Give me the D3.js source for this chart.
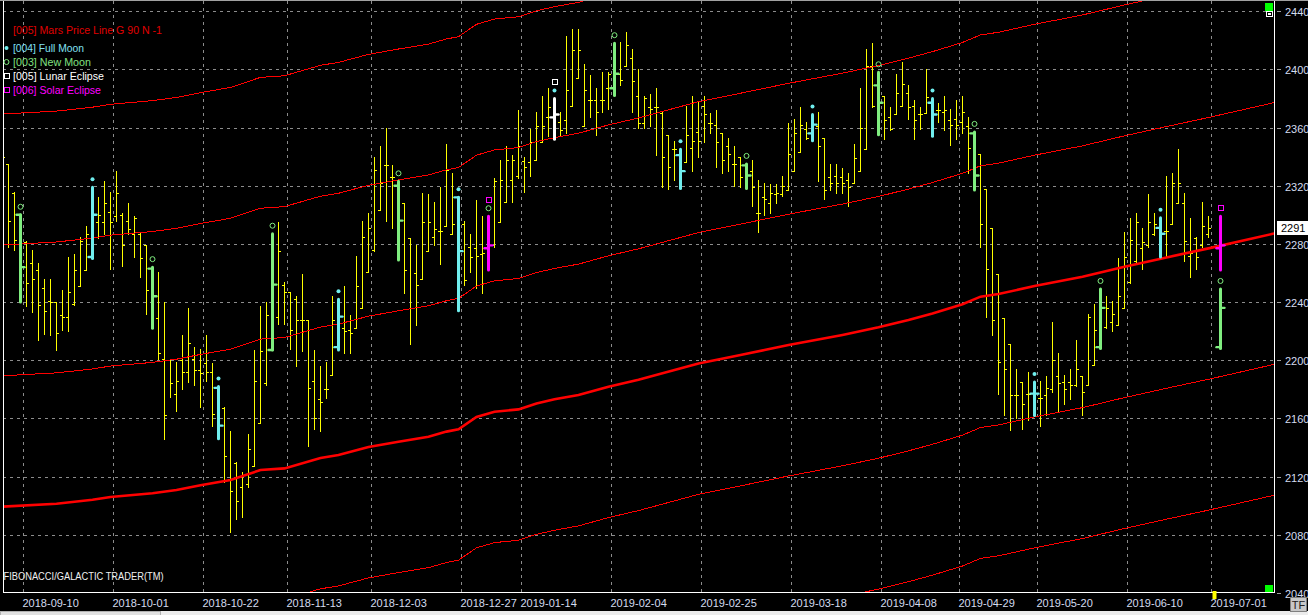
<!DOCTYPE html>
<html><head><meta charset="utf-8">
<script src="https://cdn.jsdelivr.net/npm/d3@7"></script>
<style>html,body{margin:0;padding:0;background:#000;overflow:hidden}svg{display:block}</style>
</head><body>
<svg id="c" width="1308" height="615"></svg>
<script>
// ---------- DATA ----------
const opens = [2350,2335,2315,2300,2281,2267,2262,2250,2241,2240,2231,2230,2239,2251,2262,2271,2295,2295,2302,2299,
2300,2296,2287,2287,2279,2263,2229,2201,2200,2177,2200,2192,2201,2193,2198,2192,2181,2167,2118,2129,
2113,2115,2127,2157,2184,2207,2230,2252,2247,2242,2228,2228,2186,2173,2180,2190,2209,2222,2221,2222,
2236,2261,2276,2303,2334,2326,2320,2308,2284,2260,2256,2275,2285,2289,2292,2287,2312,2294,2278,2277,
2273,2277,2279,2295,2309,2324,2327,2337,2336,2338,2350,2367,2367,2364,2365,2375,2394,2361,2379,2379,
2379,2387,2387,2397,2402,2408,2382,2363,2374,2374,2370,2355,2345,2341,2336,2346,2357,2375,2363,2362,
2356,2347,2335,2340,2334,2330,2301,2312,2308,2314,2314,2317,2330,2343,2359,2356,2361,2353,2326,2327,
2326,2324,2322,2330,2345,2402,2389,2382,2367,2369,2375,2384,2375,2369,2370,2377,2372,2371,2365,2366,
2364,2361,2356,2342,2318,2291,2259,2229,2211,2176,2185,2177,2177,2174,2176,2180,2189,2185,2185,2183,
2189,2183,2197,2209,2223,2226,2224,2236,2254,2268,2277,2279,2287,2291,2289,2294,2308,2308,2272,2284,
2279,2287];
const highs = [2364,2335,2316,2300,2282,2276,2267,2256,2256,2240,2248,2271,2273,2285,2292,2319,2312,2323,2316,2330,
2301,2308,2299,2288,2279,2264,2261,2240,2201,2199,2217,2236,2209,2208,2217,2198,2182,2168,2151,2130,
2123,2149,2207,2237,2240,2287,2295,2254,2247,2244,2259,2228,2207,2196,2199,2244,2242,2251,2231,2272,
2296,2301,2340,2347,2360,2334,2323,2308,2284,2279,2315,2314,2309,2319,2349,2329,2312,2296,2287,2310,
2299,2299,2325,2338,2347,2341,2372,2340,2359,2371,2382,2387,2380,2371,2423,2428,2428,2404,2396,2387,
2398,2398,2418,2419,2426,2414,2400,2382,2383,2387,2371,2355,2351,2345,2375,2382,2378,2382,2370,2372,
2356,2353,2347,2340,2335,2338,2324,2322,2321,2321,2327,2363,2366,2374,2364,2369,2371,2353,2335,2335,
2332,2329,2349,2387,2414,2418,2398,2382,2374,2397,2405,2389,2379,2374,2400,2380,2377,2382,2373,2379,
2382,2367,2357,2342,2318,2291,2259,2229,2211,2194,2185,2192,2185,2186,2189,2226,2205,2190,2194,2214,
2189,2232,2239,2249,2244,2241,2270,2288,2298,2301,2291,2314,2301,2298,2327,2329,2345,2315,2298,2285,
2309,2299];
const lows = [2300,2278,2276,2240,2237,2233,2214,2218,2217,2207,2221,2220,2238,2251,2262,2270,2284,2287,2263,2296,
2265,2287,2271,2257,2232,2222,2201,2146,2175,2165,2180,2185,2183,2168,2186,2155,2146,2116,2082,2091,
2092,2113,2127,2157,2183,2207,2225,2225,2208,2196,2206,2141,2153,2151,2174,2190,2207,2205,2205,2222,
2236,2261,2275,2303,2296,2291,2269,2246,2211,2224,2256,2275,2279,2266,2292,2287,2234,2252,2261,2250,
2246,2262,2278,2295,2309,2309,2325,2316,2327,2338,2350,2354,2352,2354,2356,2375,2394,2361,2367,2355,
2371,2373,2382,2389,2402,2371,2360,2360,2361,2341,2319,2318,2324,2318,2336,2330,2340,2350,2356,2333,
2329,2330,2320,2319,2318,2306,2288,2300,2301,2308,2313,2317,2330,2343,2352,2351,2323,2311,2317,2315,
2315,2306,2322,2330,2345,2374,2355,2352,2358,2369,2375,2366,2352,2359,2370,2354,2364,2358,2348,2352,
2356,2329,2317,2278,2230,2217,2177,2162,2152,2160,2153,2159,2162,2155,2162,2178,2165,2170,2173,2182,
2162,2183,2197,2208,2222,2220,2224,2236,2253,2267,2263,2278,2286,2271,2272,2294,2308,2268,2257,2263,
2278,2285];
const closes = [2340,2296,2283,2264,2253,2256,2238,2234,2240,2219,2230,2247,2262,2282,2287,2300,2300,2308,2295,2315,
2279,2290,2298,2270,2248,2244,2205,2162,2184,2186,2192,2212,2193,2191,2192,2163,2155,2134,2110,2103,
2121,2139,2186,2206,2231,2252,2275,2247,2221,2228,2228,2181,2160,2171,2180,2228,2230,2220,2219,2251,
2285,2291,2331,2322,2334,2326,2296,2262,2236,2252,2295,2295,2290,2289,2331,2294,2275,2255,2271,2272,
2274,2279,2323,2324,2338,2338,2347,2333,2350,2361,2361,2374,2369,2358,2386,2413,2413,2386,2379,2371,
2379,2397,2397,2393,2417,2392,2363,2380,2373,2374,2340,2333,2345,2330,2355,2351,2351,2369,2363,2350,
2338,2342,2335,2326,2327,2319,2301,2311,2315,2315,2320,2342,2356,2362,2353,2362,2347,2317,2322,2322,
2322,2319,2339,2360,2402,2375,2377,2365,2359,2384,2390,2374,2365,2369,2381,2369,2372,2372,2362,2362,
2371,2346,2327,2294,2263,2228,2199,2194,2176,2176,2170,2177,2177,2174,2181,2200,2184,2180,2183,2194,
2178,2230,2221,2236,2236,2232,2244,2271,2283,2295,2281,2295,2294,2287,2289,2322,2322,2282,2274,2271,
2292,2291];

// moon / eclipse bars (index into the arrays above)
const eventIdx  = [3,15,25,36,45,56,66,76,81,92,102,113,124,135,146,155,162,172,183,193];
const eventKind = ["new","full","new","full","new","full","new","full","solar","lunar",
                   "new","full","new","full","new","full","new","full","new","full"];
const eventMarks = ["c","d","c","d","c","d","c","d","cs","ds","c","d","c","d","c","d","c","d","c","d"];

// projected (future) bars
const projIdx   = [203, 203];
const projKind  = ["solar", "new"];
const projMarks = ["s", "c"];
const projOpen  = [2277, 2209];
const projHigh  = [2299, 2249];
const projLow   = [2262, 2208];
const projClose = [2279, 2236];

// Mars price line (bar index, value)
const marsIdx = [0,9,15,18,25,29,33,38,43,47,53,56,61,66,71,74,76,79,82,86,89,92,96,101,106,112,116,123,127,131,140,146,151,155,160,163,166,172,180,187,194,201,212];
const marsVal = [2099.3,2101.3,2104,2106,2108.5,2110.7,2114,2117.6,2124.5,2125.6,2132.8,2134.8,2140.3,2144,2147.4,2150.9,2152.5,2161,2164.6,2166.2,2170.3,2173.1,2176.1,2181.8,2186.6,2193.3,2197.8,2203.6,2207,2210.4,2217.4,2222.6,2227.7,2232.2,2238.5,2243.7,2245.5,2251,2257.4,2264.3,2270.7,2276.9,2287.2];
const marsOffsets = [-270,-180,-90,90,180,270,360];

const yTickValues = [2040,2080,2120,2160,2200,2240,2280,2320,2360,2400,2440];
const xTickIdx = [4,19,34,48,62,77,87,102,117,132,147,160,173,188,202];
const xTickLabels = ["2018-09-10","2018-10-01","2018-10-22","2018-11-13","2018-12-03","2018-12-27","2019-01-14",
  "2019-02-04","2019-02-25","2019-03-18","2019-04-08","2019-04-29","2019-05-20","2019-06-10","2019-07-01"];
const lastPrice = 2291;

const legendItems = [
  {label:"[004] Full Moon", kind:"full", icon:"d", w:71},
  {label:"[003] New Moon", kind:"new", icon:"c", w:78},
  {label:"[005] Lunar Eclipse", kind:"lunar", icon:"s", w:91},
  {label:"[006] Solar Eclipse", kind:"solar", icon:"s", w:88}
];

// ---------- DRAW ----------
const W = 1308, H = 615;
const color = {new:"#80ee80", full:"#70eeee", solar:"#ff00ff", lunar:"#ffffff"};
const textColor = {new:"#80e080", full:"#80e0f4", solar:"#ff00ff", lunar:"#ffffff"};
const svg = d3.select("#c");
const font = "'Liberation Sans', Arial, sans-serif";

svg.append("rect").attr("width",W).attr("height",H).attr("fill","#000");

const x = d3.scaleLinear().domain([0,212]).range([2.5,1274.5]);
const y = d3.scaleLinear().domain([2040,2440]).range([592.9,11.2]);
const L = 3, R = 1274, T = 1, B = 592;

svg.append("clipPath").attr("id","clip").append("rect")
  .attr("x",L).attr("y",T).attr("width",R-L).attr("height",B-T);

// grid
const grid = svg.append("g").attr("stroke","#8c8c8c").attr("stroke-dasharray","3,4")
  .attr("shape-rendering","crispEdges");
yTickValues.forEach(v=>{
  const yy = Math.round(y(v))+0.5;
  if (v>2040) grid.append("line").attr("x1",L).attr("x2",R).attr("y1",yy).attr("y2",yy);
});
xTickIdx.forEach(i=>{
  const xx = x(i)-3;
  grid.append("line").attr("x1",xx).attr("x2",xx).attr("y1",T).attr("y2",B);
});

const plot = svg.append("g").attr("clip-path","url(#clip)");

// yellow OHLC bars
const evSet = new Set(eventIdx);
const ybars = plot.append("g").attr("stroke","#ffff00").attr("stroke-width",1)
  .attr("shape-rendering","crispEdges").attr("fill","none");
opens.forEach((o,i)=>{
  if (evSet.has(i)) return;
  const px = x(i);
  const yh = Math.round(y(highs[i])), yl = Math.round(y(lows[i]));
  const yo = Math.round(y(o))+0.5, yc = Math.round(y(closes[i]))+0.5;
  ybars.append("path").attr("d",
    `M${px},${yh}V${yl+1}M${px-2.5},${yo}H${px}M${px},${yc}H${px+2.5}`);
});

// Mars price lines
const marsPts = marsIdx.map((d,k)=>[d,marsVal[k]]);
const lineGen = off => d3.line().x(d=>x(d[0])).y(d=>y(d[1]+off))(marsPts);
const red = plot.append("g").attr("fill","none").attr("stroke","#ff0000");
marsOffsets.forEach(off=>{
  red.append("path").attr("d",lineGen(off)).attr("stroke-width",1).attr("shape-rendering","crispEdges");
});
red.append("path").attr("d",lineGen(0)).attr("stroke-width",2.6);

// event bars + markers
function eventBar(g, i, o, h, l, c, kind, marks){
  const col = color[kind];
  const px = x(i);
  const yh = y(h), yl = y(l), yo = y(o), yc = y(c);
  g.append("line").attr("x1",px).attr("x2",px).attr("y1",yh).attr("y2",yl)
    .attr("stroke",col).attr("stroke-width",3).attr("stroke-linecap","round");
  g.append("line").attr("x1",px-4).attr("x2",px).attr("y1",yo).attr("y2",yo)
    .attr("stroke",col).attr("stroke-width",2.4).attr("stroke-linecap","round");
  g.append("line").attr("x1",px).attr("x2",px+4).attr("y1",yc).attr("y2",yc)
    .attr("stroke",col).attr("stroke-width",2.4).attr("stroke-linecap","round");
  marks.split("").forEach((m,k)=>{
    const my = yh - 8 - 8*k;
    drawMark(g, m, px, my, kind);
  });
}
function drawMark(g, m, cx, cy, kind){
  if (m==="d") g.append("circle").attr("cx",cx).attr("cy",cy).attr("r",2).attr("fill",color.full);
  else if (m==="c") g.append("circle").attr("cx",cx).attr("cy",cy).attr("r",2.5)
      .attr("fill","none").attr("stroke",color.new).attr("stroke-width",1);
  else if (m==="s") g.append("rect").attr("x",Math.round(cx)-2.5).attr("y",Math.round(cy)-2.5)
      .attr("width",5).attr("height",5).attr("fill","none")
      .attr("stroke", kind==="lunar" ? color.lunar : color.solar).attr("stroke-width",1);
}
const evg = plot.append("g");
eventIdx.forEach((i,k)=>eventBar(evg, i, opens[i], highs[i], lows[i], closes[i], eventKind[k], eventMarks[k]));
projIdx.forEach((i,k)=>eventBar(evg, i, projOpen[k], projHigh[k], projLow[k], projClose[k], projKind[k], projMarks[k]));

// frame
const frame = svg.append("g").attr("stroke","#ffffff").attr("shape-rendering","crispEdges");
frame.append("line").attr("x1",L+0.5).attr("x2",L+0.5).attr("y1",0).attr("y2",B+0.5);
frame.append("line").attr("x1",R+0.5).attr("x2",R+0.5).attr("y1",0).attr("y2",B+0.5);
frame.append("line").attr("x1",L).attr("x2",R+1).attr("y1",B+0.5).attr("y2",B+0.5);
svg.append("line").attr("x1",0).attr("x2",W).attr("y1",0.5).attr("y2",0.5)
  .attr("stroke","#a0a0a0").attr("shape-rendering","crispEdges");

// right axis
const yAxis = svg.append("g");
yTickValues.forEach(v=>{
  const yy = Math.round(y(v))+0.5;
  yAxis.append("line").attr("x1",1277).attr("x2",1281).attr("y1",yy).attr("y2",yy)
    .attr("stroke","#a0a0a0").attr("shape-rendering","crispEdges");
  yAxis.append("text").attr("x",1285).attr("y",yy+4).text(v)
    .attr("fill","#d4dcf0").attr("font-family",font).attr("font-size",11);
});
// last price box
const ly = y(lastPrice);
svg.append("rect").attr("x",1277).attr("y",Math.round(ly)-7).attr("width",31).attr("height",14).attr("fill","#fff");
svg.append("text").attr("x",1281).attr("y",Math.round(ly)+4).text(lastPrice)
  .attr("fill","#000").attr("font-family",font).attr("font-size",11);

// bottom axis labels
xTickIdx.forEach((i,k)=>{
  svg.append("text").attr("x",x(i)-4).attr("y",607).text(xTickLabels[k])
    .attr("fill","#d4dcf0").attr("font-family",font).attr("font-size",11);
});

// decorations
svg.append("rect").attr("x",1265).attr("y",3).attr("width",8).attr("height",8).attr("fill","#00ff00");
svg.append("rect").attr("x",1266.5).attr("y",11.5).attr("width",6).attr("height",5).attr("fill","#000").attr("stroke","#fff");
svg.append("rect").attr("x",1268).attr("y",13).attr("width",3).attr("height",2).attr("fill","#fff");
svg.append("rect").attr("x",1265).attr("y",585).attr("width",8).attr("height",7).attr("fill","#00ff00");
svg.append("rect").attr("x",x(202)-2).attr("y",591).attr("width",4).attr("height",8).attr("fill","#ffff00");
svg.append("rect").attr("x",0).attr("y",611).attr("width",W).attr("height",4).attr("fill","#ececec");
svg.append("rect").attr("x",0.5).attr("y",611.5).attr("width",160).attr("height",4).attr("fill","#e0e0e0").attr("stroke","#b0b0b0");
svg.append("rect").attr("x",1290.5).attr("y",597.5).attr("width",16).attr("height",14).attr("fill","#c8c8c8").attr("stroke","#808080");
svg.append("text").attr("x",1298.5).attr("y",609).attr("text-anchor","middle").text("TF")
  .attr("fill","#202020").attr("font-family",font).attr("font-size",11);

// legend
svg.append("text").attr("x",13).attr("y",34).text("[005] Mars Price Line G 90 N -1")
  .attr("fill","#e00000").attr("font-family",font).attr("font-size",10.5)
  .attr("textLength",149).attr("lengthAdjust","spacingAndGlyphs");
legendItems.forEach((d,k)=>{
  const cy = 48 + 14*k;
  drawMark(svg, d.icon, 6.5, cy, d.kind);
  svg.append("text").attr("x",13).attr("y",cy+4).text(d.label)
    .attr("fill",textColor[d.kind]).attr("font-family",font).attr("font-size",10.5)
    .attr("textLength",d.w).attr("lengthAdjust","spacingAndGlyphs");
});
svg.append("text").attr("x",3.5).attr("y",580).text("FIBONACCI/GALACTIC TRADER(TM)")
  .attr("fill","#f0f0f0").attr("font-family",font).attr("font-size",10)
  .attr("textLength",160).attr("lengthAdjust","spacingAndGlyphs");
</script>
</body></html>
